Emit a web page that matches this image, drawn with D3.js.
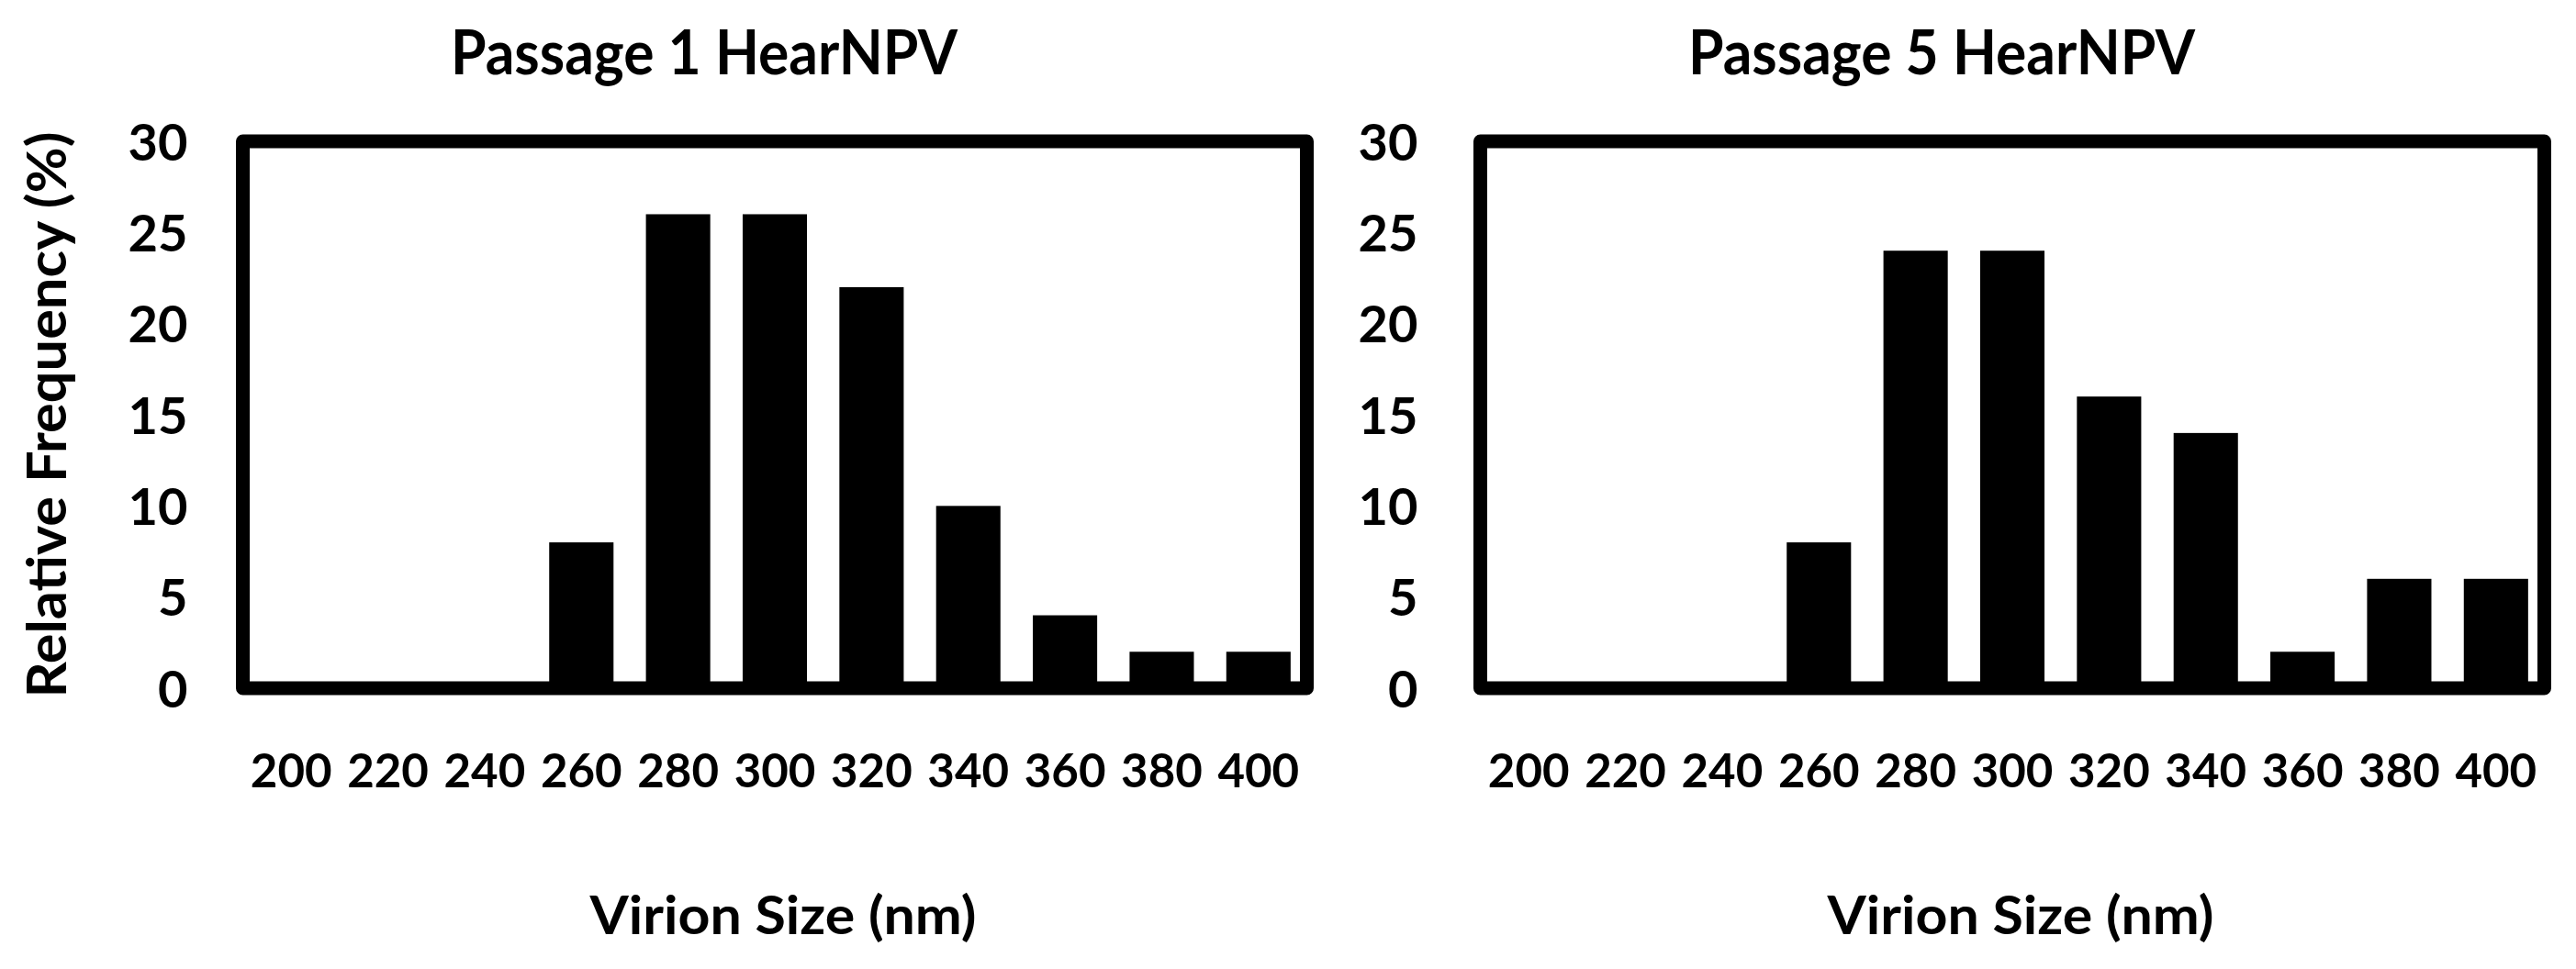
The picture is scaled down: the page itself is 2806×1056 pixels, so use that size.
<!DOCTYPE html>
<html>
<head>
<meta charset="utf-8">
<script src="https://d3js.org/d3.v7.min.js"></script>
<style>
  body { margin: 0; background: #fff; }
  text { font-family: Lato, "Open Sans", sans-serif; font-weight: 700; fill: #000; }
</style>
</head>
<body>
<svg id="chart" width="2806" height="1056"></svg>
<script>
// virion size bins (nm)
var sizes = ["200", "220", "240", "260", "280", "300", "320", "340", "360", "380", "400"];
// relative frequency (%) per bin
var passage1 = [0, 0, 0, 8, 26, 26, 22, 10, 4, 2, 2];
var passage5 = [0, 0, 0, 8, 24, 24, 16, 14, 2, 6, 6];
var yTicks = [0, 5, 10, 15, 20, 25, 30];
var titles = ["Passage 1 HearNPV", "Passage 5 HearNPV"];
var xTitle = "Virion Size (nm)";
var yTitle = "Relative Frequency (%)";

var svg = d3.select("#chart");
svg.append("rect").attr("width", 2806).attr("height", 1056).attr("fill", "#fff");

var plotTop = 154, plotBottom = 750, plotWidth = 1159;

function drawPanel(left, title, values, withYTitle, tickPad) {
  var g = svg.append("g").attr("transform", "translate(" + left + ",0)");

  var x = d3.scaleBand()
      .domain(sizes)
      .range([0, plotWidth])
      .paddingInner(0.335)
      .paddingOuter(0.1675);

  var y = d3.scaleLinear()
      .domain([0, 30])
      .range([plotBottom, plotTop]);

  var data = sizes.map(function(s, i) { return {x: s, y: values[i]}; });

  g.selectAll(".bar")
      .data(data)
      .enter().append("rect")
        .attr("class", "bar")
        .attr("x", function(d) { return x(d.x); })
        .attr("y", function(d) { return y(d.y); })
        .attr("width", x.bandwidth())
        .attr("height", function(d) { return y(0) - y(d.y); })
        .attr("fill", "#000");

  // plot area border
  g.append("rect")
      .attr("x", 0)
      .attr("y", y(30))
      .attr("width", plotWidth)
      .attr("height", y(0) - y(30))
      .attr("fill", "none")
      .attr("stroke", "#000")
      .attr("stroke-width", 15)
      .attr("stroke-linejoin", "round");

  var yAxis = g.append("g")
      .call(d3.axisLeft(y).tickValues(yTicks).tickSize(0).tickPadding(tickPad));
  yAxis.select(".domain").remove();
  yAxis.selectAll("text")
      .attr("dy", "0.36em")
      .style("font-size", "56px")
      .style("font-family", "Lato, 'Open Sans', sans-serif")
      .style("font-weight", "700")
      .attr("fill", "#000");

  var xAxis = g.append("g")
      .attr("transform", "translate(0," + plotBottom + ")")
      .call(d3.axisBottom(x).tickSize(0));
  xAxis.select(".domain").remove();
  xAxis.selectAll("text")
      .attr("y", 90)
      .attr("dy", "0.36em")
      .style("font-size", "51px")
      .style("font-family", "Lato, 'Open Sans', sans-serif")
      .style("font-weight", "700")
      .attr("fill", "#000");

  g.append("text")
      .attr("x", plotWidth / 2 - 77)
      .attr("y", 81)
      .attr("text-anchor", "middle")
      .attr("textLength", 552)
      .attr("lengthAdjust", "spacingAndGlyphs")
      .style("font-size", "66px")
      .text(title);

  g.append("text")
      .attr("x", plotWidth / 2 + 9)
      .attr("y", 1018)
      .attr("text-anchor", "middle")
      .attr("textLength", 421)
      .attr("lengthAdjust", "spacingAndGlyphs")
      .style("font-size", "57px")
      .text(xTitle);

  if (withYTitle) {
    g.append("text")
        .attr("transform", "translate(" + (72 - left) + "," + ((plotTop + plotBottom) / 2) + ") rotate(-90)")
        .attr("text-anchor", "middle")
        .attr("textLength", 617)
        .attr("lengthAdjust", "spacingAndGlyphs")
        .style("font-size", "60px")
        .text(yTitle);
  }
}

drawPanel(264.5, titles[0], passage1, true, 60);
drawPanel(1612.5, titles[1], passage5, false, 68);
</script>
</body>
</html>
